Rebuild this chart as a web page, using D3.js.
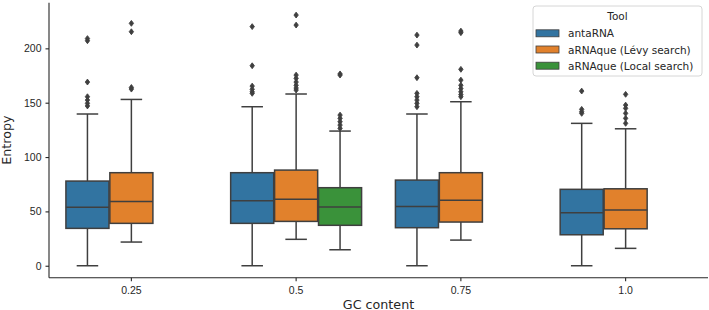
<!DOCTYPE html>
<html>
<head>
<meta charset="utf-8">
<script src="https://cdn.jsdelivr.net/npm/d3@7"></script>
<style>
  body { margin: 0; background: white; }
  svg { font-family: "DejaVu Sans", sans-serif; }
</style>
</head>
<body>
<div id="chart"></div>
<script>
// categories
const gcLabels = ['0.25', '0.5', '0.75', '1.0']
const tools = ['antaRNA', 'aRNAque (Lévy search)', 'aRNAque (Local search)']
const toolColors = ['#3274a1', '#e1812c', '#3a923a']

// box stats per gc: [whisker low, q1, median, q3, whisker high], null = no data
const antaStats = [[0, 34.4, 53.7, 77.9, 139.6], [0, 39, 59.8, 85.6, 146.3], [0, 35, 54.6, 78.8, 139.6], [0, 28.5, 48.8, 70.3, 131]]
const levyStats = [[21.8, 39, 59.2, 85.6, 153], [24.3, 40.8, 61.1, 88, 158], [23.6, 40.2, 60.2, 85.6, 150.9], [16, 34, 51.2, 70.8, 126]]
const localStats = [null, [14.7, 37.2, 54, 71.8, 123.9], null, null]

// outliers per gc
const antaOut = [[209, 207, 169, 155.5, 152.4, 149.4, 147], [220, 184, 165.3, 162.3, 160, 158.6], [212.2, 203, 173, 158.6, 155.5, 152.4, 149.4, 146.3], [160.7, 143.9, 141.7, 140.2]]
const levyOut = [[223, 215.3, 164, 162.5], [230.6, 221.4, 175.4, 172.4, 169, 166, 163.5, 161.6], [215.9, 214.4, 180.7, 170.8, 166, 163, 160, 157.5, 155.5], [157.7, 147.8, 144.8, 140.2, 135.6, 131]]
const localOut = [[], [176.5, 175.4, 138.6, 135.6, 132.5, 129.4, 126.4], [], []]

const allStats = [antaStats, levyStats, localStats]
const allOut = [antaOut, levyOut, localOut]

const W = 709, H = 310
const margin = { top: 2.7, bottom: 32.3, left: 49, right: 1 }
const edge = '#3f3f3f'

function draw() {
    let svg = d3.select('#chart').append('svg')
        .attr('width', W)
        .attr('height', H)

    let x = d3.scaleBand().domain(gcLabels).range([margin.left, W - margin.right]).padding(0)
    let hue = d3.scaleBand().domain(tools).range([-x.bandwidth() * 0.4, x.bandwidth() * 0.4])
    let y = d3.scaleLinear().domain([-11, 242]).range([H - margin.bottom, margin.top])

    // axes
    let xAxis = svg.append('g')
        .attr('transform', `translate(0,${H - margin.bottom})`)
        .call(d3.axisBottom(x).tickSize(3.5).tickPadding(5.5))
    let yAxis = svg.append('g')
        .attr('transform', `translate(${margin.left},0)`)
        .call(d3.axisLeft(y).tickValues([0, 50, 100, 150, 200]).tickSize(3.5).tickPadding(4))
    for (let a of [xAxis, yAxis]) {
        a.select('.domain').attr('stroke', '#262626').attr('stroke-width', 1.1)
        a.selectAll('.tick line').attr('stroke', '#262626').attr('stroke-width', 1.1)
        a.selectAll('.tick text').attr('fill', '#262626').style('font-size', '10.5px')
    }
    // keep only the spine lines
    xAxis.select('.domain').attr('d', `M${margin.left},0H${W - margin.right}`)
    yAxis.select('.domain').attr('d', `M0,${H - margin.bottom}V${margin.top}`)

    svg.append('text')
        .attr('x', (margin.left + W - margin.right) / 2)
        .attr('y', 308.5)
        .attr('text-anchor', 'middle')
        .attr('fill', '#262626')
        .style('font-size', '12.7px')
        .text('GC content')

    svg.append('text')
        .attr('transform', `translate(10.5,${(margin.top + H - margin.bottom) / 2}) rotate(-90)`)
        .attr('text-anchor', 'middle')
        .attr('fill', '#262626')
        .style('font-size', '12.7px')
        .text('Entropy')

    // boxes
    let bw = hue.bandwidth() * 0.98
    tools.forEach((tool, ti) => {
        gcLabels.forEach((gc, gi) => {
            let s = allStats[ti][gi]
            if (!s) return
            let cx = x(gc) + x.bandwidth() / 2 + hue(tool) + hue.bandwidth() / 2
            let g = svg.append('g')
            // whiskers
            g.append('line').attr('x1', cx).attr('x2', cx).attr('y1', y(s[0])).attr('y2', y(s[1]))
                .attr('stroke', edge).attr('stroke-width', 1.5)
            g.append('line').attr('x1', cx).attr('x2', cx).attr('y1', y(s[3])).attr('y2', y(s[4]))
                .attr('stroke', edge).attr('stroke-width', 1.5)
            for (let v of [s[0], s[4]]) {
                g.append('line').attr('x1', cx - bw / 4).attr('x2', cx + bw / 4).attr('y1', y(v)).attr('y2', y(v))
                    .attr('stroke', edge).attr('stroke-width', 1.5)
            }
            g.append('rect')
                .attr('x', cx - bw / 2).attr('width', bw)
                .attr('y', y(s[3])).attr('height', y(s[1]) - y(s[3]))
                .attr('fill', toolColors[ti])
                .attr('stroke', edge).attr('stroke-width', 1.5)
            g.append('line').attr('x1', cx - bw / 2).attr('x2', cx + bw / 2).attr('y1', y(s[2])).attr('y2', y(s[2]))
                .attr('stroke', edge).attr('stroke-width', 1.5)
            // outliers
            g.selectAll('path.out')
                .data(allOut[ti][gi])
                .enter()
                .append('path')
                .attr('class', 'out')
                .attr('d', d3.symbol(d3.symbolDiamond2, 22))
                .attr('transform', d => `translate(${cx},${y(d)}) scale(0.75,1)`)
                .attr('fill', edge)
                .attr('stroke', edge)
                .attr('stroke-width', 1)
        })
    })

    // legend
    let lg = svg.append('g').attr('transform', 'translate(533,6)')
    lg.append('rect')
        .attr('width', 169).attr('height', 70).attr('rx', 3)
        .attr('fill', 'white').attr('fill-opacity', 0.8)
        .attr('stroke', '#cccccc').attr('stroke-width', 0.8)
    lg.append('text')
        .attr('x', 84.5).attr('y', 14)
        .attr('text-anchor', 'middle')
        .attr('fill', '#262626')
        .style('font-size', '10.5px')
        .text('Tool')
    tools.forEach((t, i) => {
        let row = lg.append('g').attr('transform', `translate(0,${27.3 + i * 16.2})`)
        row.append('rect')
            .attr('x', 3).attr('y', -3.5).attr('width', 23).attr('height', 7)
            .attr('fill', toolColors[i]).attr('stroke', edge).attr('stroke-width', 0.8)
        row.append('text')
            .attr('x', 35).attr('y', 0)
            .attr('dominant-baseline', 'central')
            .attr('fill', '#262626')
            .style('font-size', '10.5px')
            .text(t)
    })
}
draw()
</script>
</body>
</html>
